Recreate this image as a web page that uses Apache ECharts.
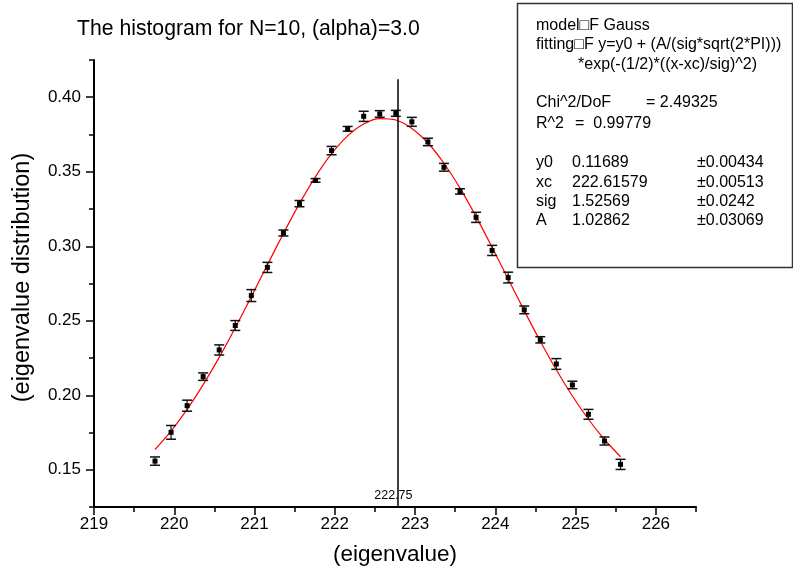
<!DOCTYPE html>
<html><head><meta charset="utf-8">
<script src="https://cdn.jsdelivr.net/npm/echarts@6/dist/echarts.min.js"></script>
<style>html,body{margin:0;padding:0;background:#fff}#c{width:793px;height:581px}</style>
</head><body><div id="c"></div>
<script>
// ---- data ----
const xValues = [219.76, 219.96, 220.16, 220.36, 220.56, 220.76, 220.96, 221.16, 221.36, 221.56,
                 221.76, 221.96, 222.16, 222.36, 222.56, 222.76, 222.96, 223.16, 223.36, 223.56,
                 223.76, 223.96, 224.16, 224.36, 224.56, 224.76, 224.96, 225.16, 225.36, 225.56];
const yValues = [0.1558, 0.1751, 0.1930, 0.2125, 0.2304, 0.2468, 0.2669, 0.2858, 0.3089, 0.3286,
                 0.3442, 0.3642, 0.3788, 0.3872, 0.3888, 0.3892, 0.3835, 0.3700, 0.3530, 0.3368,
                 0.3194, 0.2972, 0.2790, 0.2573, 0.2372, 0.2210, 0.2069, 0.1872, 0.1693, 0.1536];
const yErrors = [0.0028, 0.0046, 0.0037, 0.0025, 0.0034, 0.0033, 0.0040, 0.0034, 0.0020, 0.0021,
                 0.0012, 0.0028, 0.0016, 0.0034, 0.0022, 0.0020, 0.0030, 0.0025, 0.0026, 0.0018,
                 0.0034, 0.0034, 0.0036, 0.0026, 0.0021, 0.0036, 0.0025, 0.0033, 0.0027, 0.0034];
const fitX = [219.76, 219.96, 220.16, 220.36, 220.56, 220.76, 220.96, 221.16, 221.36, 221.56,
              221.76, 221.96, 222.16, 222.36, 222.56, 222.76, 222.96, 223.16, 223.36, 223.56,
              223.76, 223.96, 224.16, 224.36, 224.56, 224.76, 224.96, 225.16, 225.36, 225.56];
const fitY = [0.1636, 0.1760, 0.1905, 0.2071, 0.2254, 0.2453, 0.2662, 0.2875, 0.3086, 0.3286,
              0.3467, 0.3621, 0.3741, 0.3821, 0.3857, 0.3847, 0.3791, 0.3693, 0.3557, 0.3390,
              0.3199, 0.2993, 0.2780, 0.2568, 0.2363, 0.2171, 0.1995, 0.1839, 0.1703, 0.1587];
const xTickValues = [219, 220, 221, 222, 223, 224, 225, 226];
const yTickValues = [0.15, 0.20, 0.25, 0.30, 0.35, 0.40];
const markerLineX = 222.78;
const markerLabel = '222.75';
const markerTop = 0.412;
const titleText = 'The histogram for N=10, (alpha)=3.0';
const xName = '(eigenvalue)';
const yName = '(eigenvalue distribution)';
const boxLines = [
  ['model\u25A1F Gauss'],
  ['fitting\u25A1F y=y0 + (A/(sig*sqrt(2*PI)))'],
  ['*exp(-(1/2)*((x-xc)/sig)^2)'],
  ['Chi^2/DoF', '= 2.49325'],
  ['R^2', '=  0.99779'],
  ['y0', '0.11689', '\u00B10.00434'],
  ['xc', '222.61579', '\u00B10.00513'],
  ['sig', '1.52569', '\u00B10.0242'],
  ['A', '1.02862', '\u00B10.03069']
];

const FONT = '"Liberation Sans", Arial, sans-serif';
const chart = echarts.init(document.getElementById('c'), null, {renderer: 'canvas'});

function txt(x, y, s) {
  return {type: 'text', x: x, y: y, silent: true,
    style: {text: s, font: '16px ' + FONT, fill: '#000', verticalAlign: 'middle', align: 'left'}};
}
const g = [{type: 'rect', left: 515, top: 1, silent: true,
  shape: {width: 275, height: 264},
  style: {fill: 'none', stroke: '#333', lineWidth: 1.5}}];
g.push(txt(536, 26, boxLines[0][0]));
g.push(txt(536, 45, boxLines[1][0]));
g.push(txt(578, 64.5, boxLines[2][0]));
g.push(txt(536, 103, boxLines[3][0])); g.push(txt(646, 103, boxLines[3][1]));
g.push(txt(536, 123.5, boxLines[4][0])); g.push(txt(575, 123.5, boxLines[4][1]));
[163, 182.5, 202, 221].forEach((yy, i) => {
  const r = boxLines[5 + i];
  g.push(txt(536, yy, r[0])); g.push(txt(572, yy, r[1])); g.push(txt(697, yy, r[2]));
});

const option = {
  animation: false,
  backgroundColor: '#fff',
  textStyle: {fontFamily: FONT},
  title: {text: titleText, left: 72, top: 14,
    textStyle: {fontSize: 21.2, fontWeight: 'normal', color: '#000', fontFamily: FONT}},
  grid: {left: 94, right: 97, top: 60, bottom: 74, containLabel: false},
  xAxis: [{
    type: 'value', min: 219, max: 226.5,
    name: xName, nameLocation: 'middle', nameGap: 36,
    nameTextStyle: {fontSize: 22.5, color: '#000', fontFamily: FONT},
    axisLine: {show: true, onZero: false, lineStyle: {color: '#000', width: 2}},
    axisTick: {show: true, length: 8, lineStyle: {color: '#000', width: 1.5}, customValues: xTickValues},
    axisLabel: {fontSize: 17, color: '#000', margin: 9, customValues: xTickValues, fontFamily: FONT},
    splitLine: {show: false}
  }, {
    type: 'value', min: 219, max: 226.5, interval: 0.5, position: 'bottom', offset: 0,
    axisLine: {show: false}, axisLabel: {show: false}, splitLine: {show: false},
    axisTick: {show: true, length: 5, lineStyle: {color: '#000', width: 1.5}}
  }],
  yAxis: [{
    type: 'value', min: 0.125, max: 0.425,
    name: yName, nameLocation: 'middle', nameGap: 59,
    nameTextStyle: {fontSize: 23.5, color: '#000', fontFamily: FONT, padding: [0, 0, 0, 12]},
    axisLine: {show: true, onZero: false, lineStyle: {color: '#000', width: 2}},
    axisTick: {show: true, length: 8, lineStyle: {color: '#000', width: 1.5}, customValues: yTickValues},
    axisLabel: {fontSize: 17, color: '#000', margin: 13, customValues: yTickValues,
      formatter: v => v.toFixed(2), fontFamily: FONT},
    splitLine: {show: false}
  }, {
    type: 'value', min: 0.125, max: 0.425, interval: 0.025, position: 'left', offset: 0,
    axisLine: {show: false}, axisLabel: {show: false}, splitLine: {show: false},
    axisTick: {show: true, length: 5, lineStyle: {color: '#000', width: 1.5}}
  }],
  series: [{
    type: 'line', name: 'fit', xAxisIndex: 0, yAxisIndex: 0,
    data: fitX.map((x, i) => [x, fitY[i]]),
    symbol: 'none', smooth: 0.25,
    lineStyle: {color: '#ff0000', width: 1.2}, z: 2,
    markLine: {
      symbol: 'none', silent: true, animation: false,
      lineStyle: {color: '#000', width: 1.5, type: 'solid'},
      label: {show: false},
      data: [[{coord: [markerLineX, 0.125]}, {coord: [markerLineX, markerTop]}]]
    },
    markPoint: {
      silent: true, symbol: 'circle', symbolSize: 0,
      label: {show: true, position: 'top', distance: 5, formatter: markerLabel,
        color: '#000', fontSize: 12.5, fontFamily: FONT, offset: [-4, 0]},
      data: [{coord: [markerLineX, 0.125]}]
    }
  }, {
    type: 'custom', name: 'data', xAxisIndex: 0, yAxisIndex: 0, z: 3,
    data: xValues.map((x, i) => [x, yValues[i], yErrors[i]]),
    renderItem: function (params, api) {
      const x = api.value(0), y = api.value(1), e = api.value(2);
      const p = api.coord([x, y]);
      const hi = api.coord([x, y + e]);
      const lo = api.coord([x, y - e]);
      const hw = 5;
      const st = {stroke: '#111', lineWidth: 1.5};
      return {type: 'group', children: [
        {type: 'line', shape: {x1: p[0], y1: hi[1], x2: p[0], y2: lo[1]}, style: {stroke: '#111', lineWidth: 1.2}},
        {type: 'line', shape: {x1: p[0] - hw, y1: hi[1], x2: p[0] + hw, y2: hi[1]}, style: st},
        {type: 'line', shape: {x1: p[0] - hw, y1: lo[1], x2: p[0] + hw, y2: lo[1]}, style: st},
        {type: 'rect', shape: {x: p[0] - 2.5, y: p[1] - 2.5, width: 5, height: 5}, style: {fill: '#000'}}
      ]};
    }
  }],
  graphic: g
};
chart.setOption(option);
</script>
</body></html>
